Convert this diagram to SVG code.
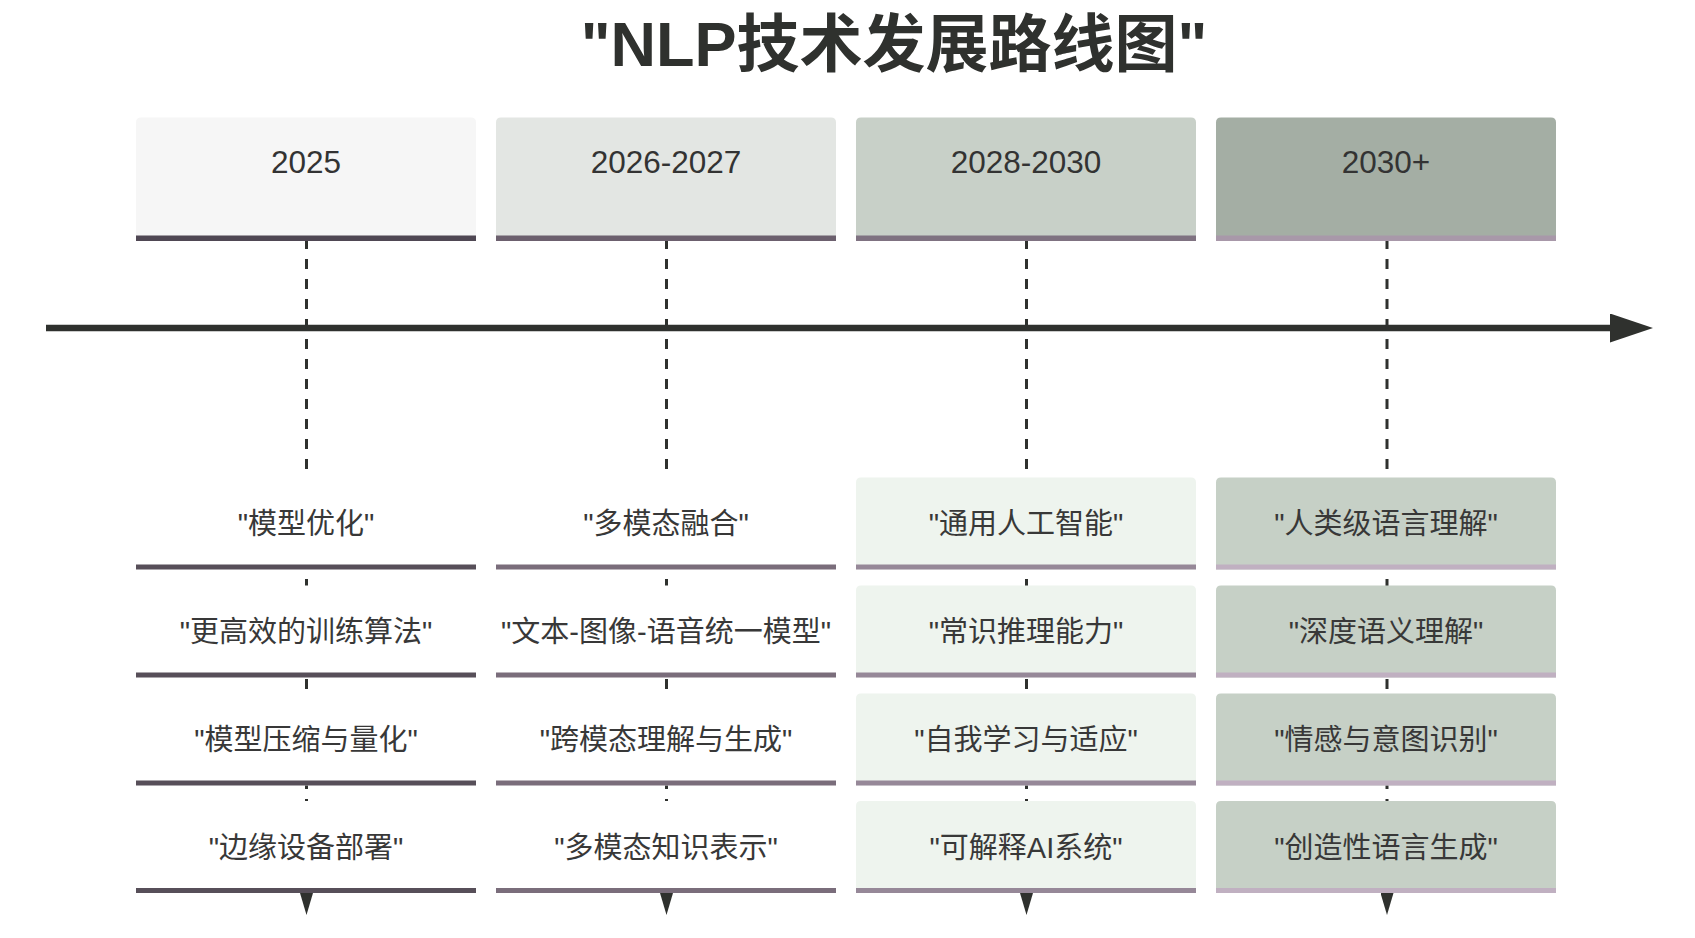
<svg xmlns="http://www.w3.org/2000/svg" width="1695" height="938" viewBox="0 0 1695 938">
  <defs>
    <marker id="arrowBig" viewBox="0 0 43 29" markerWidth="43" markerHeight="29" refX="0" refY="14.5" orient="auto" markerUnits="userSpaceOnUse">
      <path d="M0,0 L43,14.5 L0,29 Z" fill="#2f312e"/>
    </marker>
    <marker id="arrowDown" viewBox="0 0 22 13" markerWidth="22" markerHeight="13" refX="0" refY="6.5" orient="auto" markerUnits="userSpaceOnUse">
      <path d="M0,0 L22,6.5 L0,13 Z" fill="#2f312e"/>
    </marker>
  </defs>
  <style>
    .title { font-family: "Liberation Sans", "Noto Sans CJK SC", sans-serif; font-weight: bold; font-size: 63px; fill: #2f312e; text-anchor: middle; }
    .year { font-family: "Liberation Sans", "Noto Sans CJK SC", sans-serif; font-size: 31.5px; fill: #333333; text-anchor: middle; }
    .ev { font-family: "Liberation Sans", "Noto Sans CJK SC", sans-serif; font-size: 29px; fill: #383838; text-anchor: middle; }
    .axis { stroke: #2f312e; stroke-width: 6.5; fill: none; }
    .dash { stroke: #2f312e; stroke-width: 3; stroke-dasharray: 10 10; fill: none; }
  </style>
  <rect x="0" y="0" width="1695" height="938" fill="#ffffff"/>

  <text class="title" x="894" y="66">"NLP技术发展路线图"</text>

  <g id="connectors">
    <line class="axis" x1="46" y1="328" x2="1610" y2="328" marker-end="url(#arrowBig)"/>
    <line class="dash" x1="306.5" y1="239" x2="306.5" y2="893" marker-end="url(#arrowDown)"/>
    <line class="dash" x1="666.5" y1="239" x2="666.5" y2="893" marker-end="url(#arrowDown)"/>
    <line class="dash" x1="1026.5" y1="239" x2="1026.5" y2="893" marker-end="url(#arrowDown)"/>
    <line class="dash" x1="1387" y1="239" x2="1387" y2="893" marker-end="url(#arrowDown)"/>
  </g>

  <!-- Period headers -->
  <g id="period-2025">
    <path d="M136,241 V122.5 Q136,117.5 141,117.5 H471 Q476,117.5 476,122.5 V241 Z" fill="#f6f6f6"/>
    <rect x="136" y="235.5" width="340" height="5.5" fill="#4f4753"/>
    <text class="year" x="306" y="173">2025</text>
  </g>
  <g id="period-2026-2027">
    <path d="M496,241 V122.5 Q496,117.5 501,117.5 H831 Q836,117.5 836,122.5 V241 Z" fill="#e3e6e3"/>
    <rect x="496" y="235.5" width="340" height="5.5" fill="#6c606e"/>
    <text class="year" x="666" y="173">2026-2027</text>
  </g>
  <g id="period-2028-2030">
    <path d="M856,241 V122.5 Q856,117.5 861,117.5 H1191 Q1196,117.5 1196,122.5 V241 Z" fill="#c8d0c8"/>
    <rect x="856" y="235.5" width="340" height="5.5" fill="#7f7281"/>
    <text class="year" x="1026" y="173">2028-2030</text>
  </g>
  <g id="period-2030plus">
    <path d="M1216,241 V122.5 Q1216,117.5 1221,117.5 H1551 Q1556,117.5 1556,122.5 V241 Z" fill="#a4aea4"/>
    <rect x="1216" y="235.5" width="340" height="5.5" fill="#a898a9"/>
    <text class="year" x="1386" y="173">2030+</text>
  </g>

  <!-- Column 1 events -->
  <g id="e-2025-1">
    <path d="M136,569.5 V482.5 Q136,477.5 141,477.5 H471 Q476,477.5 476,482.5 V569.5 Z" fill="#ffffff"/>
    <rect x="136" y="564.5" width="340" height="5" fill="#574f59"/>
    <text class="ev" x="306" y="533.5">"模型优化"</text>
  </g>
  <g id="e-2025-2">
    <path d="M136,677.5 V590.5 Q136,585.5 141,585.5 H471 Q476,585.5 476,590.5 V677.5 Z" fill="#ffffff"/>
    <rect x="136" y="672.5" width="340" height="5" fill="#574f59"/>
    <text class="ev" x="306" y="641.5">"更高效的训练算法"</text>
  </g>
  <g id="e-2025-3">
    <path d="M136,785.5 V698.5 Q136,693.5 141,693.5 H471 Q476,693.5 476,698.5 V785.5 Z" fill="#ffffff"/>
    <rect x="136" y="780.5" width="340" height="5" fill="#574f59"/>
    <text class="ev" x="306" y="749.5">"模型压缩与量化"</text>
  </g>
  <g id="e-2025-4">
    <path d="M136,893 V806 Q136,801 141,801 H471 Q476,801 476,806 V893 Z" fill="#ffffff"/>
    <rect x="136" y="888" width="340" height="5" fill="#574f59"/>
    <text class="ev" x="306" y="857.5">"边缘设备部署"</text>
  </g>

  <!-- Column 2 events -->
  <g id="e-2026-1">
    <path d="M496,569.5 V482.5 Q496,477.5 501,477.5 H831 Q836,477.5 836,482.5 V569.5 Z" fill="#ffffff"/>
    <rect x="496" y="564.5" width="340" height="5" fill="#7a6d7b"/>
    <text class="ev" x="666" y="533.5">"多模态融合"</text>
  </g>
  <g id="e-2026-2">
    <path d="M496,677.5 V590.5 Q496,585.5 501,585.5 H831 Q836,585.5 836,590.5 V677.5 Z" fill="#ffffff"/>
    <rect x="496" y="672.5" width="340" height="5" fill="#7a6d7b"/>
    <text class="ev" x="666" y="641.5">"文本-图像-语音统一模型"</text>
  </g>
  <g id="e-2026-3">
    <path d="M496,785.5 V698.5 Q496,693.5 501,693.5 H831 Q836,693.5 836,698.5 V785.5 Z" fill="#ffffff"/>
    <rect x="496" y="780.5" width="340" height="5" fill="#7a6d7b"/>
    <text class="ev" x="666" y="749.5">"跨模态理解与生成"</text>
  </g>
  <g id="e-2026-4">
    <path d="M496,893 V806 Q496,801 501,801 H831 Q836,801 836,806 V893 Z" fill="#ffffff"/>
    <rect x="496" y="888" width="340" height="5" fill="#7a6d7b"/>
    <text class="ev" x="666" y="857.5">"多模态知识表示"</text>
  </g>

  <!-- Column 3 events -->
  <g id="e-2028-1">
    <path d="M856,569.5 V482.5 Q856,477.5 861,477.5 H1191 Q1196,477.5 1196,482.5 V569.5 Z" fill="#eef4ee"/>
    <rect x="856" y="564.5" width="340" height="5" fill="#968898"/>
    <text class="ev" x="1026" y="533.5">"通用人工智能"</text>
  </g>
  <g id="e-2028-2">
    <path d="M856,677.5 V590.5 Q856,585.5 861,585.5 H1191 Q1196,585.5 1196,590.5 V677.5 Z" fill="#eef4ee"/>
    <rect x="856" y="672.5" width="340" height="5" fill="#968898"/>
    <text class="ev" x="1026" y="641.5">"常识推理能力"</text>
  </g>
  <g id="e-2028-3">
    <path d="M856,785.5 V698.5 Q856,693.5 861,693.5 H1191 Q1196,693.5 1196,698.5 V785.5 Z" fill="#eef4ee"/>
    <rect x="856" y="780.5" width="340" height="5" fill="#968898"/>
    <text class="ev" x="1026" y="749.5">"自我学习与适应"</text>
  </g>
  <g id="e-2028-4">
    <path d="M856,893 V806 Q856,801 861,801 H1191 Q1196,801 1196,806 V893 Z" fill="#eef4ee"/>
    <rect x="856" y="888" width="340" height="5" fill="#968898"/>
    <text class="ev" x="1026" y="857.5">"可解释AI系统"</text>
  </g>

  <!-- Column 4 events -->
  <g id="e-2030-1">
    <path d="M1216,569.5 V482.5 Q1216,477.5 1221,477.5 H1551 Q1556,477.5 1556,482.5 V569.5 Z" fill="#c6d0c6"/>
    <rect x="1216" y="564.5" width="340" height="5" fill="#c0b0c1"/>
    <text class="ev" x="1386" y="533.5">"人类级语言理解"</text>
  </g>
  <g id="e-2030-2">
    <path d="M1216,677.5 V590.5 Q1216,585.5 1221,585.5 H1551 Q1556,585.5 1556,590.5 V677.5 Z" fill="#c6d0c6"/>
    <rect x="1216" y="672.5" width="340" height="5" fill="#c0b0c1"/>
    <text class="ev" x="1386" y="641.5">"深度语义理解"</text>
  </g>
  <g id="e-2030-3">
    <path d="M1216,785.5 V698.5 Q1216,693.5 1221,693.5 H1551 Q1556,693.5 1556,698.5 V785.5 Z" fill="#c6d0c6"/>
    <rect x="1216" y="780.5" width="340" height="5" fill="#c0b0c1"/>
    <text class="ev" x="1386" y="749.5">"情感与意图识别"</text>
  </g>
  <g id="e-2030-4">
    <path d="M1216,893 V806 Q1216,801 1221,801 H1551 Q1556,801 1556,806 V893 Z" fill="#c6d0c6"/>
    <rect x="1216" y="888" width="340" height="5" fill="#c0b0c1"/>
    <text class="ev" x="1386" y="857.5">"创造性语言生成"</text>
  </g>
</svg>
